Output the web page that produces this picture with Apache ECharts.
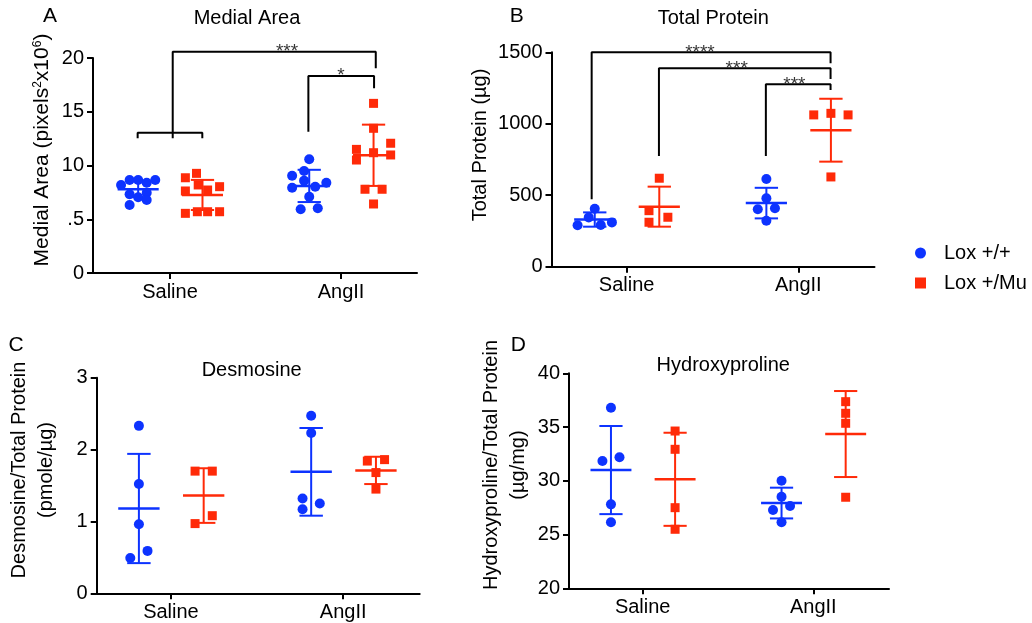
<!DOCTYPE html>
<html>
<head>
<meta charset="utf-8">
<script src="https://cdn.jsdelivr.net/npm/echarts@6/dist/echarts.min.js"></script>
<style>
  html, body { margin: 0; padding: 0; background: #fff; }
  #chart { width: 1032px; height: 623px; }
</style>
</head>
<body>
<div id="chart"></div>
<script>
const categories = ['Saline', 'AngII'];
const seriesNames = ['Lox +/+', 'Lox +/Mu'];

// A: medial area, per group [Saline, AngII]
const medialWT = [
  [8.19, 8.65, 8.65, 8.40, 8.65, 7.47, 7.32, 7.04, 6.33, 6.79],
  [10.58, 9.05, 9.49, 8.59, 8.40, 8.03, 7.93, 7.10, 5.93, 6.02]
];
const medialMut = [
  [8.86, 9.27, 8.03, 7.63, 8.19, 7.72, 5.55, 5.70, 5.70, 5.70],
  [15.78, 13.46, 12.07, 11.50, 11.19, 10.98, 10.51, 7.79, 7.79, 6.42]
];
const medialWTMean = [7.8, 8.1], medialWTSD = [0.75, 1.5];
const medialMutMean = [7.26, 10.95], medialMutSD = [1.4, 2.85];

// B: total protein (ug)
const proteinWT = [[405, 345, 290, 292, 310], [614, 479, 402, 409, 322]];
const proteinMut = [[619, 392, 311, 346], [1062, 1073, 1062, 628]];
const proteinWTMean = [330, 445], proteinWTSD = [50, 107];
const proteinMutMean = [420, 955], proteinMutSD = [140, 220];

// C: desmosine / total protein
const desmoWT = [[2.33, 1.52, 0.96, 0.59, 0.49], [2.47, 2.23, 1.32, 1.17, 1.25]];
const desmoMut = [[1.70, 1.70, 1.08, 0.97], [1.84, 1.86, 1.68, 1.45]];
const desmoWTMean = [1.18, 1.69], desmoWTSD = [0.76, 0.61];
const desmoMutMean = [1.36, 1.71], desmoMutSD = [0.38, 0.19];

// D: hydroxyproline / total protein
const hydroWT = [[36.8, 31.84, 32.19, 27.81, 26.14], [30.01, 28.52, 27.28, 27.66, 26.14]];
const hydroMut = [[34.63, 32.93, 27.5, 25.49], [37.36, 36.28, 35.35, 28.47]];
const hydroWTMean = [31.0, 27.93], hydroWTSD = [4.1, 1.43];
const hydroMutMean = [30.14, 34.35], hydroMutSD = [4.33, 4.0];

// horizontal spread of overlapping points (in half-marker steps)
const medialWTJit = [[-2, -1, 0, 1, 2, 1, -1, 0, -1, 1], [0, -2, -0.6, -0.6, 2, 0.7, -2, 0, -1, 1]];
const medialMutJit = [[-2, -0.7, 2, -2, -0.5, 0.6, -2, -0.6, 0.6, 2], [0, 0, 2, -2, 0, 2, -2, -1, 1, 0]];
const proteinWTJit = [[0, -0.7, -2, 0.7, 2], [0, 0, -1, 1, 0]];
const proteinMutJit = [[0, -1.2, -1.2, 1], [-2, 0, 2, 0]];
const desmoWTJit = [[0, 0, 0, 1, -1], [0, 0, -1, -1, 1]];
const desmoMutJit = [[-1, 1, 1, -1], [-1, 1, 0, 0]];
const hydroWTJit = [[0, -1, 1, 0, 0], [0, 0, -1, 1, 0]];
const hydroMutJit = [[0, 0, 0, 0], [0, 0, 0, 0]];

// significance brackets (x in category units, y in axis units)
const medialBrackets = [
  { path: [[0.016, 12.53], [0.016, 20.59], [1.203, 20.59], [1.203, 19.04]], star: '***', at: [0.684, 20.59] },
  { path: [[-0.189, 12.53], [-0.189, 13.05], [0.189, 13.05], [0.189, 12.53]] },
  { path: [[0.809, 13.14], [0.809, 18.33], [1.193, 18.33], [1.193, 17.18]], star: '*', at: [1.0, 18.33] }
];
const proteinBrackets = [
  { path: [[-0.204, 472], [-0.204, 1500], [1.188, 1500], [1.188, 1423]], star: '****', at: [0.427, 1500] },
  { path: [[0.188, 775], [0.188, 1388], [1.188, 1388], [1.188, 1313]], star: '***', at: [0.641, 1388] },
  { path: [[0.811, 775], [0.811, 1276], [1.188, 1276], [1.188, 1236]], star: '***', at: [0.977, 1276] }
];

const BLUE = '#0d33ff';
const RED = '#ff2a08';
const FONT = '"Liberation Sans", Arial, sans-serif';
const JIT = 0.05, WT_SHIFT = -0.186, MUT_SHIFT = 0.19;
const MEAN_W = 0.12, CAP_W = 0.068;

const panels = [
  { letter: 'A', title: 'Medial Area', grid: { left: 93, top: 58, width: 324, height: 215 }, xMin: -0.45,
    y: [0, 20, 5], wt: medialWT, mut: medialMut, wtJ: medialWTJit, mutJ: medialMutJit,
    wtM: medialWTMean, wtS: medialWTSD, mutM: medialMutMean, mutS: medialMutSD, brackets: medialBrackets,
    yFmt: v => (v === 5 ? '.5' : String(v)) },
  { letter: 'B', title: 'Total Protein', grid: { left: 551.5, top: 52.3, width: 323, height: 214.4 }, xMin: -0.438,
    y: [0, 1500, 500], wt: proteinWT, mut: proteinMut, wtJ: proteinWTJit, mutJ: proteinMutJit,
    wtM: proteinWTMean, wtS: proteinWTSD, mutM: proteinMutMean, mutS: proteinMutSD, brackets: proteinBrackets },
  { letter: 'C', title: 'Desmosine', grid: { left: 96.7, top: 377.7, width: 323, height: 215.6 }, xMin: -0.431,
    y: [0, 3, 1], wt: desmoWT, mut: desmoMut, wtJ: desmoWTJit, mutJ: desmoMutJit,
    wtM: desmoWTMean, wtS: desmoWTSD, mutM: desmoMutMean, mutS: desmoMutSD, brackets: [] },
  { letter: 'D', title: 'Hydroxyproline', grid: { left: 569, top: 373.3, width: 320, height: 215 }, xMin: -0.432,
    y: [20, 40, 5], wt: hydroWT, mut: hydroMut, wtJ: hydroWTJit, mutJ: hydroMutJit,
    wtM: hydroWTMean, wtS: hydroWTSD, mutM: hydroMutMean, mutS: hydroMutSD, brackets: [] }
];

function points(vals, jit, shift) {
  const out = [];
  vals.forEach((g, ci) => g.forEach((v, i) => out.push([ci + shift + jit[ci][i] * JIT, v])));
  return out;
}

function barRenderer(color) {
  return function (params, api) {
    const x = api.value(0), m = api.value(1), s = api.value(2);
    const seg = (a, b, w) => ({
      type: 'line',
      shape: { x1: a[0], y1: a[1], x2: b[0], y2: b[1] },
      style: { stroke: color, lineWidth: w }
    });
    return {
      type: 'group',
      children: [
        seg(api.coord([x, m - s]), api.coord([x, m + s]), 2),
        seg(api.coord([x - CAP_W, m + s]), api.coord([x + CAP_W, m + s]), 2),
        seg(api.coord([x - CAP_W, m - s]), api.coord([x + CAP_W, m - s]), 2),
        seg(api.coord([x - MEAN_W, m]), api.coord([x + MEAN_W, m]), 2.5)
      ]
    };
  };
}

const axisLine = { color: '#000', width: 2 };
const grids = [], xAxes = [], yAxes = [], series = [];

panels.forEach((p, i) => {
  grids.push(p.grid);
  xAxes.push({
    gridIndex: i, type: 'value', min: p.xMin, max: 1.444,
    axisLine: { show: true, onZero: false, lineStyle: axisLine },
    axisTick: { show: true, customValues: [0, 1], length: 6, lineStyle: axisLine },
    axisLabel: { customValues: [0, 1], formatter: v => categories[Math.round(v)], fontSize: 20, color: '#000', margin: 9 },
    splitLine: { show: false }
  });
  yAxes.push({
    gridIndex: i, type: 'value', min: p.y[0], max: p.y[1], interval: p.y[2],
    axisLine: { show: true, onZero: false, lineStyle: axisLine },
    axisTick: { show: true, length: 6, lineStyle: axisLine },
    axisLabel: { fontSize: 20, color: '#000', margin: 9, formatter: p.yFmt || (v => String(v)) },
    splitLine: { show: false }
  });
  series.push({
    name: seriesNames[0], type: 'scatter', xAxisIndex: i, yAxisIndex: i,
    symbol: 'circle', symbolSize: 10, itemStyle: { color: BLUE, opacity: 1 },
    data: points(p.wt, p.wtJ, WT_SHIFT)
  });
  series.push({
    name: seriesNames[1], type: 'scatter', xAxisIndex: i, yAxisIndex: i,
    symbol: 'rect', symbolSize: 9, itemStyle: { color: RED, opacity: 1 },
    data: points(p.mut, p.mutJ, MUT_SHIFT)
  });
  series.push({
    type: 'custom', xAxisIndex: i, yAxisIndex: i, renderItem: barRenderer(BLUE), silent: true,
    data: [0, 1].map(ci => [ci + WT_SHIFT, p.wtM[ci], p.wtS[ci]])
  });
  series.push({
    type: 'custom', xAxisIndex: i, yAxisIndex: i, renderItem: barRenderer(RED), silent: true,
    data: [0, 1].map(ci => [ci + MUT_SHIFT, p.mutM[ci], p.mutS[ci]])
  });
  p.brackets.forEach(b => {
    series.push({
      type: 'line', xAxisIndex: i, yAxisIndex: i, data: b.path, symbol: 'none', silent: true,
      clip: false, lineStyle: { color: '#000', width: 2 }
    });
    if (b.star) {
      series.push({
        type: 'scatter', xAxisIndex: i, yAxisIndex: i, symbolSize: 1, silent: true, clip: false,
        itemStyle: { color: 'rgba(0,0,0,0)' },
        label: { show: true, position: 'inside', formatter: b.star, fontSize: 19, color: '#000' },
        data: [b.at]
      });
    }
  });
});

function text(x, y, str, size, extra) {
  return {
    type: 'text', x: x, y: y, silent: true,
    style: Object.assign({
      text: str, fill: '#000', fontSize: size, fontFamily: FONT,
      align: 'center', verticalAlign: 'middle', textAlign: 'center', textVerticalAlign: 'middle'
    }, extra || {})
  };
}
function vtext(x, y, str, size, extra) {
  const t = text(x, y, str, size, extra);
  t.rotation = Math.PI / 2;
  return t;
}

const graphics = [
  text(50, 16, 'A', 21), text(516.7, 16, 'B', 21), text(16, 345, 'C', 21), text(518.3, 345, 'D', 21),
  text(247, 18, 'Medial Area', 20), text(713.3, 18, 'Total Protein', 20),
  text(251.7, 370, 'Desmosine', 20), text(723.3, 365, 'Hydroxyproline', 20),
  vtext(42, 150, 'Medial Area (pixels{s|2}x10{s|6})', 21, {
    rich: { s: { fontSize: 12, fontFamily: FONT, fill: '#000', verticalAlign: 'top', padding: [0, 0, 8, 0] } }
  }),
  vtext(480, 145, 'Total Protein (µg)', 20),
  vtext(33.3, 470, 'Desmosine/Total Protein\n(pmole/µg)', 20, { lineHeight: 27 }),
  vtext(505, 465, 'Hydroxyproline/Total Protein\n(µg/mg)', 20, { lineHeight: 27 })
];

const chart = echarts.init(document.getElementById('chart'), null, { renderer: 'canvas' });
chart.setOption({
  animation: false,
  backgroundColor: '#fff',
  textStyle: { fontFamily: FONT },
  grid: grids,
  xAxis: xAxes,
  yAxis: yAxes,
  legend: {
    orient: 'vertical', left: 915, top: 243, padding: 0,
    itemWidth: 11, itemHeight: 11, itemGap: 10, selectedMode: false,
    data: [{ name: seriesNames[0], icon: 'circle' }, { name: seriesNames[1], icon: 'rect' }],
    textStyle: { fontSize: 20, color: '#000', padding: [0, 0, 0, 13] }
  },
  graphic: graphics,
  series: series
});
</script>
</body>
</html>
